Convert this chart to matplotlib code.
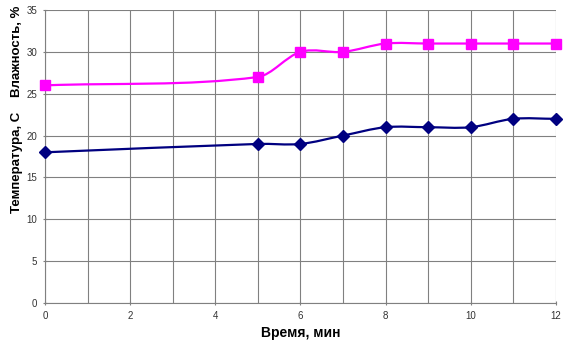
import matplotlib
matplotlib.use('Agg')
import matplotlib.pyplot as plt
from matplotlib.path import Path
from matplotlib.patches import PathPatch
import numpy as np

# data
time_min = [0, 5, 6, 7, 8, 9, 10, 11, 12]
humidity = [26, 27, 30, 30, 31, 31, 31, 31, 31]
temperature = [18, 19, 19, 20, 21, 21, 21, 22, 22]


def smooth_path(xs, ys):
    # smoothed line like Excel: cubic bezier segments through the points
    x = np.asarray(xs, float)
    y = np.asarray(ys, float)
    n = len(x)
    m = np.empty(n)
    m[0] = (y[1] - y[0]) / (x[1] - x[0])
    m[-1] = (y[-1] - y[-2]) / (x[-1] - x[-2])
    m[1:-1] = (y[2:] - y[:-2]) / (x[2:] - x[:-2])
    verts = [(x[0], y[0])]
    codes = [Path.MOVETO]
    for i in range(n - 1):
        h = x[i + 1] - x[i]
        verts += [(x[i] + h / 3, y[i] + m[i] * h / 3),
                  (x[i + 1] - h / 3, y[i + 1] - m[i + 1] * h / 3),
                  (x[i + 1], y[i + 1])]
        codes += [Path.CURVE4] * 3
    return Path(verts, codes)


plt.rcParams['font.family'] = ['Liberation Sans', 'DejaVu Sans']

fig = plt.figure(figsize=(5.7, 3.47), dpi=100)
ax = fig.add_axes([0.079, 0.127, 0.896, 0.844])

pink = '#ff00ff'
navy = '#000080'

ax.add_patch(PathPatch(smooth_path(time_min, humidity), fill=False,
                       edgecolor=pink, lw=1.6, zorder=3))
ax.add_patch(PathPatch(smooth_path(time_min, temperature), fill=False,
                       edgecolor=navy, lw=1.6, zorder=3))
ax.plot(time_min, humidity, ls='none', marker='s', ms=7.5, color=pink,
        zorder=4, clip_on=False)
ax.plot(time_min, temperature, ls='none', marker='D', ms=6, color=navy,
        zorder=4, clip_on=False)

ax.set_xlim(0, 12)
ax.set_ylim(0, 35)
ax.set_xticks(range(0, 13, 2))
ax.set_xticks(range(0, 13), minor=True)
ax.set_yticks(range(0, 36, 5))
ax.grid(True, which='both', color='#808080', lw=0.8)
ax.set_axisbelow(True)

for side in ['top', 'right']:
    ax.spines[side].set_visible(False)
for side in ['left', 'bottom']:
    ax.spines[side].set_color('#808080')

ax.tick_params(axis='both', which='major', labelsize=7, colors='#808080',
               labelcolor='#333333', length=3, direction='inout', pad=4)
ax.tick_params(axis='x', which='minor', length=0)

ax.set_xlabel('Время, мин', fontsize=10, fontweight='bold', labelpad=4)
fig.text(0.03, 0.853, 'Влажность, %', rotation=90, fontsize=9.5,
         fontweight='bold', ha='center', va='center')
fig.text(0.03, 0.533, 'Температура, С', rotation=90, fontsize=9.5,
         fontweight='bold', ha='center', va='center')

fig.savefig('out.png', dpi=100)
